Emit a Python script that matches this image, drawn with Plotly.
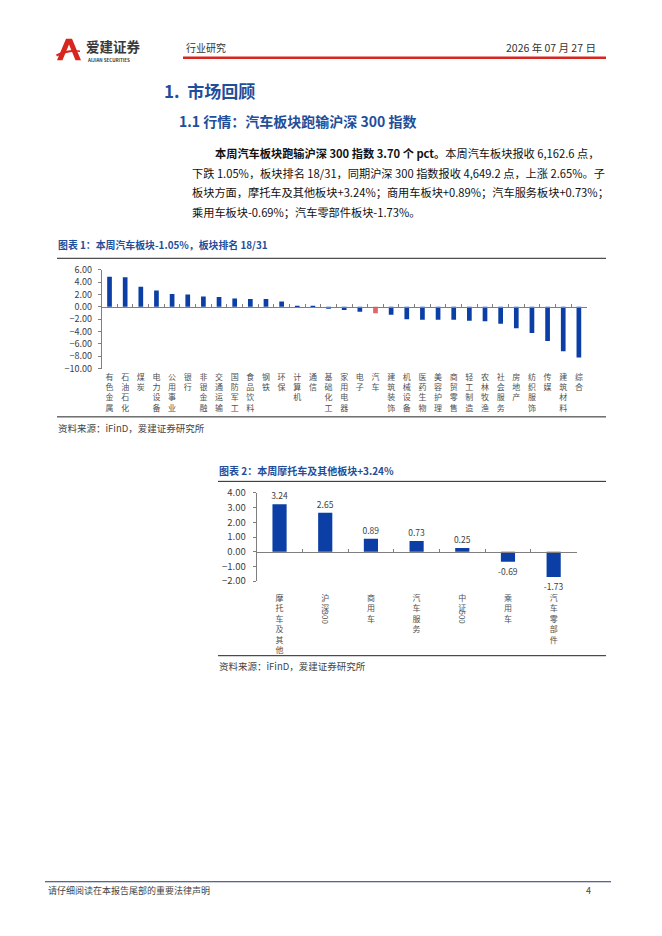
import plotly.graph_objects as go

# page is 662x936; the html body keeps its default 8px margin,
# so the figure is drawn 8px smaller and all page positions shifted by it
PAGE_W, PAGE_H = 662, 936
OFF = 8
W, H = PAGE_W - OFF, PAGE_H - OFF
FONT = "Noto Sans CJK SC"
BLUE = "#0B3FA6"
RED = "#E0666C"
TITLE_BLUE = "#1F4E9A"
AXIS = "#7F7F7F"

# chart 1: sector weekly change (%)
sectors = ["有色金属", "石油石化", "煤炭", "电力设备", "公用事业", "银行", "非银金融",
           "交通运输", "国防军工", "食品饮料", "钢铁", "环保", "计算机", "通信",
           "基础化工", "家用电器", "电子", "汽车", "建筑装饰", "机械设备", "医药生物",
           "美容护理", "商贸零售", "轻工制造", "农林牧渔", "社会服务", "房地产",
           "纺织服饰", "传媒", "建筑材料", "综合"]
sector_chg = [4.86, 4.81, 3.27, 2.63, 2.10, 2.00, 1.68, 1.60, 1.36, 1.28, 1.28, 0.88,
              0.18, 0.06, -0.28, -0.52, -0.78, -1.05, -1.28, -2.00, -2.10, -2.10,
              -2.08, -2.26, -2.34, -2.74, -3.45, -4.23, -5.53, -7.20, -8.22]
y1_ticks = [-10, -8, -6, -4, -2, 0, 2, 4, 6]

# chart 2: auto sub-sectors vs indices (%)
subs = ["摩托车及其他", "沪深300", "商用车", "汽车服务", "中证500", "乘用车", "汽车零部件"]
sub_chg = [3.24, 2.65, 0.89, 0.73, 0.25, -0.69, -1.73]
y2_ticks = [-2, -1, 0, 1, 2, 3, 4]


def px(x):
    return (x - OFF) / W


def py(y):
    return 1 - (y - OFF) / H


def stack(name):
    # vertical label: one CJK char per line, digit run handled separately
    cjk = "".join(c for c in name if not c.isdigit())
    digits = "".join(c for c in name if c.isdigit())
    return "<br>".join(cjk), digits


d1x, d1y = [px(101.7), px(586.7)], [py(366), py(265.7)]
d2x, d2y = [px(256.7), px(576.5)], [py(581.7), py(492.3)]
r1, r2 = [-10, 6], [-2, 4]
zero1 = d1y[0] + (0 - r1[0]) / (r1[1] - r1[0]) * (d1y[1] - d1y[0])
zero2 = d2y[0] + (0 - r2[0]) / (r2[1] - r2[0]) * (d2y[1] - d2y[0])

idx1 = list(range(len(sectors)))
idx2 = list(range(len(subs)))

fig = go.Figure()
fig.add_trace(go.Bar(x=idx1, y=sector_chg, xaxis="x", yaxis="y",
                     marker_color=[RED if s == "汽车" else BLUE for s in sectors],
                     marker_line_width=0, width=0.3))
fig.add_trace(go.Bar(x=idx2, y=sub_chg, xaxis="x2", yaxis="y2",
                     marker_color=BLUE, marker_line_width=0, width=0.31,
                     texttemplate="%{y:.2f}", textposition="outside",
                     constraintext="none", cliponaxis=False,
                     textfont=dict(family=FONT, size=8.5, color="#404040")))
# empty traces so the zero-line axes get drawn
fig.add_trace(go.Scatter(x=[], y=[], xaxis="x3", yaxis="y"))
fig.add_trace(go.Scatter(x=[], y=[], xaxis="x4", yaxis="y2"))

tickfont = dict(family=FONT, size=8, color="#505050")
lab1 = [stack(s)[0] for s in sectors]
lab2 = [stack(s)[0] for s in subs]

fig.update_layout(
    width=W, height=H, margin=dict(l=0, r=0, t=0, b=0),
    paper_bgcolor="white", plot_bgcolor="white", showlegend=False,
    font=dict(family=FONT, color="#222222"),
    xaxis=dict(domain=d1x, anchor="y", range=[-0.5, len(sectors) - 0.5],
               tickvals=idx1, ticktext=lab1, tickfont=tickfont, ticks="",
               ticklabelstandoff=2, showline=False, showgrid=False, zeroline=False),
    yaxis=dict(domain=d1y, anchor="x", range=r1, tickvals=y1_ticks, tickformat=".2f",
               tickfont=dict(family=FONT, size=9, color="#404040"),
               ticks="outside", ticklen=3, tickcolor=AXIS,
               showline=True, linecolor=AXIS, showgrid=False, zeroline=False,
               ticklabelstandoff=4),
    xaxis3=dict(domain=d1x, overlaying="x", anchor="free", position=zero1,
                range=[-0.5, len(sectors) - 0.5],
                tickvals=[i - 0.5 for i in range(len(sectors) + 1)],
                ticks="inside", ticklen=3, tickcolor=AXIS, showticklabels=False,
                showline=True, linecolor=AXIS, showgrid=False, zeroline=False),
    xaxis2=dict(domain=d2x, anchor="y2", range=[-0.5, len(subs) - 0.5],
                tickvals=idx2, ticktext=lab2, tickfont=tickfont, ticks="",
                ticklabelstandoff=11, showline=False, showgrid=False, zeroline=False),
    yaxis2=dict(domain=d2y, anchor="x2", range=r2, tickvals=y2_ticks, tickformat=".2f",
                tickfont=dict(family=FONT, size=9.5, color="#404040"),
                ticks="outside", ticklen=3, tickcolor=AXIS,
                showline=True, linecolor=AXIS, showgrid=False, zeroline=False,
                ticklabelstandoff=5),
    xaxis4=dict(domain=d2x, overlaying="x2", anchor="free", position=zero2,
                range=[-0.5, len(subs) - 0.5],
                tickvals=[i - 0.5 for i in range(len(subs) + 1)],
                ticks="inside", ticklen=3, tickcolor=AXIS, showticklabels=False,
                showline=True, linecolor=AXIS, showgrid=False, zeroline=False),
)

# rotated digit parts of the index labels (沪深300, 中证500)
for i, s in enumerate(subs):
    digits = stack(s)[1]
    if digits:
        fig.add_annotation(x=i, xref="x2", y=py(619), yref="paper", text=digits,
                           textangle=90, showarrow=False, xanchor="center",
                           yanchor="middle", font=tickfont)


def text(x, y, s, size, color="#222222", anchor="left", bold=False):
    fig.add_annotation(x=px(x), y=py(y), xref="paper", yref="paper",
                       text=f"<b>{s}</b>" if bold else s, showarrow=False,
                       xanchor=anchor, yanchor="middle",
                       font=dict(family=FONT, size=size, color=color))


def hline(x0, x1, y, color, width=1):
    fig.add_shape(type="line", xref="paper", yref="paper",
                  x0=px(x0), x1=px(x1), y0=py(y), y1=py(y),
                  line=dict(color=color, width=width))


# header
logo = [(57, 53), (66, 31), (72, 31), (81, 53), (75.5, 53), (69, 37), (62.5, 53)]
fig.add_shape(type="path", xref="paper", yref="paper", line_width=0,
              fillcolor="#D7261E",
              path="M " + " L ".join(f"{px(a):.4f},{py(b):.4f}" for a, b in logo) + " Z")
fig.add_shape(type="path", xref="paper", yref="paper", line_width=0,
              fillcolor="#D7261E",
              path=f"M {px(56):.4f},{py(47):.4f} Q {px(68):.4f},{py(41):.4f} "
                   f"{px(80):.4f},{py(43):.4f} L {px(80):.4f},{py(44.5):.4f} "
                   f"Q {px(68):.4f},{py(43.5):.4f} {px(57):.4f},{py(49):.4f} Z")
text(84, 38, "爱建证券", 13.5, "#3A3A3A", bold=True)
text(84.5, 52.5, "AIJIAN SECURITIES", 4.5, "#3A3A3A", bold=True)
text(184, 40, "行业研究", 10, "#333333")
text(598, 40, "2026 年 07 月 27 日", 10.5, "#333333", anchor="right")
hline(183, 606, 50.5, "#D7261E", 2.5)

# section headings and paragraph
text(162, 84, "1.  市场回顾", 17, TITLE_BLUE, bold=True)
text(177, 115, "1.1 行情：汽车板块跑输沪深 300 指数", 14, TITLE_BLUE, bold=True)
para = [
    (213, "<b>本周汽车板块跑输沪深 300 指数 3.70 个 pct。</b>本周汽车板块报收 6,162.6 点，"),
    (190, "下跌 1.05%，板块排名 18/31，同期沪深 300 指数报收 4,649.2 点，上涨 2.65%。子"),
    (190, "板块方面，摩托车及其他板块+3.24%；商用车板块+0.89%；汽车服务板块+0.73%；"),
    (190, "乘用车板块-0.69%；汽车零部件板块-1.73%。"),
]
for k, (x0, line) in enumerate(para):
    text(x0, 147 + 20 * k, line, 11.2, "#111111")

# chart frames, titles, sources
text(56, 241, "图表 1：本周汽车板块-1.05%，板块排名 18/31", 9.9, TITLE_BLUE, bold=True)
hline(57, 606, 254, "#222222", 1)
hline(57, 606, 415, "#222222", 1)
text(56, 426, "资料来源：iFinD，爱建证券研究所", 9.5, "#444444")

text(217, 469, "图表 2：本周摩托车及其他板块+3.24%", 10, TITLE_BLUE, bold=True)
hline(218, 606, 480.5, "#222222", 1)
hline(218, 606, 657.5, "#222222", 1)
text(217, 668, "资料来源：iFinD，爱建证券研究所", 9.5, "#444444")

# footer
hline(45, 611, 887, "#1F3A6E", 1)
text(46, 896, "请仔细阅读在本报告尾部的重要法律声明", 9, "#444444")
text(593, 896, "4", 9, "#444444", anchor="right")

fig.write_html("out.html")
